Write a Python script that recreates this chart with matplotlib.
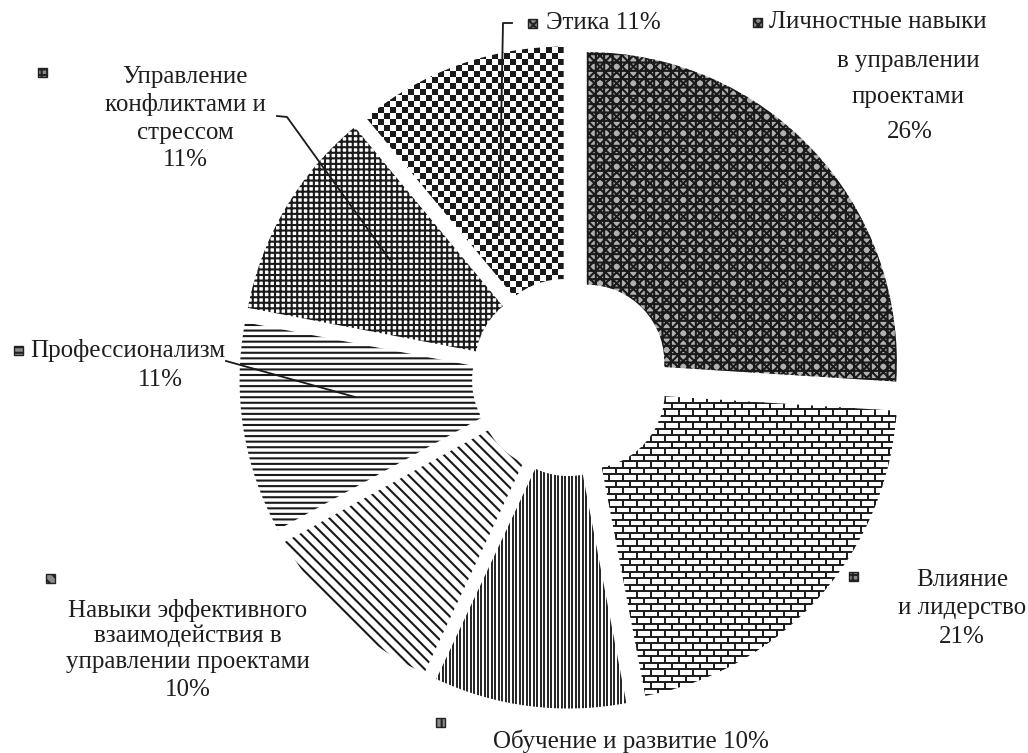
import numpy as np
import matplotlib
matplotlib.use('Agg')
import matplotlib.pyplot as plt
from matplotlib.collections import LineCollection, PolyCollection
from matplotlib.patches import Rectangle
from matplotlib.lines import Line2D

# data (clockwise from 12 o'clock)
names = ['Личностные навыки\nв управлении\nпроектами',
         'Влияние\nи лидерство',
         'Обучение и развитие',
         'Навыки эффективного\nвзаимодействия в\nуправлении проектами',
         'Профессионализм',
         'Управление\nконфликтами и\nстрессом',
         'Этика']
values = [26, 21, 10, 10, 11, 11, 11]

# pixel geometry of the picture
W, H = 1028, 753
px = 310.0           # pixels per unit radius
cx, cy = 571, 377    # pie centre, pixels from top-left

plt.rcParams['font.family'] = ['Liberation Serif', 'DejaVu Serif']
plt.rcParams['hatch.linewidth'] = 1.5

fig = plt.figure(figsize=(W / 100, H / 100), dpi=100)
ax = fig.add_axes([0, 0, 1, 1])

wedges, _ = ax.pie(values, startangle=90, counterclock=False,
                   explode=[0.07] * len(values), radius=1,
                   wedgeprops=dict(width=0.75, edgecolor='#1a1a1a',
                                   linewidth=0, facecolor='white'))
ax.set_aspect('auto')
ax.set_xlim(-cx / px, (W - cx) / px)
ax.set_ylim(-(H - cy) / px, cy / px)
ax.axis('off')

hatches = ['xxx++', None, None, '\\\\\\', '---', '+++', None]
for w, h in zip(wedges, hatches):
    if h:
        w.set_hatch(h)
wedges[0].set_facecolor('#b0b0b0')


def to_data(xp, yp):
    return (np.asarray(xp) - cx) / px, (cy - np.asarray(yp)) / px


def extents_px(w):
    e = w.get_path().get_extents()
    return (e.x0 * px + cx, e.x1 * px + cx, cy - e.y1 * px, cy - e.y0 * px)


# brick pattern for "Влияние"
x0, x1, y0, y1 = extents_px(wedges[1])
segs = []
rh, bl = 6.5, 14.0
ys = np.arange(y0 - rh, y1 + rh, rh)
for i, yy in enumerate(ys):
    a = to_data([x0 - 5, x1 + 5], [yy, yy])
    segs.append(list(zip(*a)))
    off = 0 if i % 2 == 0 else bl / 2
    for xx in np.arange(x0 - bl + off, x1 + bl, bl):
        b = to_data([xx, xx], [yy, yy + rh])
        segs.append(list(zip(*b)))
lc = LineCollection(segs, colors='#1a1a1a', linewidths=1.4)
ax.add_collection(lc)
lc.set_clip_path(wedges[1])

# fine vertical lines for "Обучение и развитие"
x0, x1, y0, y1 = extents_px(wedges[2])
vsegs = []
for xx in np.arange(x0 - 4, x1 + 4, 3.5):
    b = to_data([xx, xx], [y0 - 5, y1 + 5])
    vsegs.append(list(zip(*b)))
vc = LineCollection(vsegs, colors='#1a1a1a', linewidths=1.35)
ax.add_collection(vc)
vc.set_clip_path(wedges[2])

# checkerboard for "Этика"
x0, x1, y0, y1 = extents_px(wedges[6])
sq = 6.0
polys = []
for i, yy in enumerate(np.arange(y0 - sq, y1 + sq, sq)):
    for j, xx in enumerate(np.arange(x0 - sq, x1 + sq, sq)):
        if (i + j) % 2 == 0:
            qx, qy = to_data([xx, xx + sq, xx + sq, xx], [yy, yy, yy + sq, yy + sq])
            polys.append(list(zip(qx, qy)))
pc = PolyCollection(polys, facecolors='#1a1a1a', edgecolors='none')
ax.add_collection(pc)
pc.set_clip_path(wedges[6])

# data labels: legend key + text lines (pixel layout)
labels = [n.split('\n') for n in names]
for i, v in enumerate(values):
    if i in (2, 6):
        labels[i][-1] = labels[i][-1] + ' %d%%' % v
    else:
        labels[i].append('%d%%' % v)

keys = [(757, 22), (853, 576), (440, 722), (50, 578), (18, 350), (42, 72), (532, 23)]
key_hatch = ['xxxx', '+++', '|||', '\\\\\\', '---', '+++', 'xxxx']
layout = [
    [(769, 22, 'left'), (908, 61, 'center'), (908, 97, 'center'), (910, 132, 'center')],
    [(962, 580, 'center'), (962, 608, 'center'), (962, 637, 'center')],
    [(631, 741, 'center')],
    [(188, 610, 'center'), (188, 636, 'center'), (188, 662, 'center'), (188, 690, 'center')],
    [(30, 350, 'left'), (160, 380, 'center')],
    [(185, 77, 'center'), (185, 105, 'center'), (185, 133, 'center'), (185, 160, 'center')],
    [(546, 23, 'left')],
]

for lines, pos, (kx, ky), kh in zip(labels, layout, keys, key_hatch):
    for s, (tx, ty, ha) in zip(lines, pos):
        fig.text(tx / W, 1 - ty / H, s, ha=ha, va='center', fontsize=18,
                 color='#1e1e1e')
    k = 9
    fig.add_artist(Rectangle(((kx - k / 2) / W, 1 - (ky + k / 2) / H), k / W, k / H,
                             transform=fig.transFigure, facecolor='#8a8a8a',
                             edgecolor='#222222', linewidth=1.0, hatch=kh))

# leader lines
leaders = [
    [(512, 23), (503, 23), (499, 235)],
    [(226, 361), (355, 397)],
    [(277, 116), (287, 117), (390, 260)],
]
for path in leaders:
    xs = [p[0] / W for p in path]
    ys = [1 - p[1] / H for p in path]
    fig.add_artist(Line2D(xs, ys, transform=fig.transFigure, color='#1a1a1a', lw=1.3))

fig.savefig('out.png', dpi=100)
